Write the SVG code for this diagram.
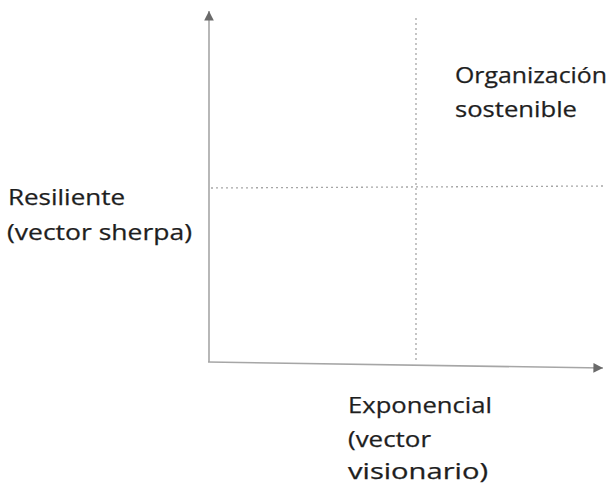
<svg xmlns="http://www.w3.org/2000/svg" width="608" height="484" viewBox="0 0 608 484">
<style>
.axis{stroke:#a6a6a6;stroke-width:1.6;fill:none}
.dot{stroke:#a6a6a6;stroke-width:1.3;stroke-dasharray:2 3;fill:none}
.lbl{font-family:"Open Sans","Noto Sans",Arial,sans-serif;font-size:22px;fill:#1e1e1e;stroke:#1e1e1e;stroke-width:0.25}
</style>
<defs>
<marker id="ah" viewBox="0 0 10 10" refX="10" refY="5" markerWidth="6" markerHeight="6" orient="auto" markerUnits="strokeWidth">
<path d="M0,0 L10,5 L0,10 Z" fill="#6a6a6a"/>
</marker>
</defs>
<rect width="608" height="484" fill="#fff"/>
<g id="connectors">
<line class="dot" x1="416" y1="18" x2="416" y2="362"/>
<line class="dot" x1="211" y1="188" x2="604" y2="186"/>
<line class="axis" x1="209" y1="362" x2="209" y2="11" marker-end="url(#ah)"/>
<line class="axis" x1="208" y1="362" x2="603" y2="368" marker-end="url(#ah)"/>
</g>
<g id="resiliente">
<text class="lbl" x="8" y="205" textLength="117" lengthAdjust="spacingAndGlyphs">Resiliente</text>
<text class="lbl" x="7" y="240" textLength="185" lengthAdjust="spacingAndGlyphs">(vector sherpa)</text>
</g>
<g id="organizacion">
<text class="lbl" x="455" y="83" textLength="152" lengthAdjust="spacingAndGlyphs">Organización</text>
<text class="lbl" x="455" y="117" textLength="122" lengthAdjust="spacingAndGlyphs">sostenible</text>
</g>
<g id="exponencial">
<text class="lbl" x="348" y="413" textLength="144" lengthAdjust="spacingAndGlyphs">Exponencial</text>
<text class="lbl" x="348" y="447" textLength="83" lengthAdjust="spacingAndGlyphs">(vector</text>
<text class="lbl" x="348" y="479" textLength="140" lengthAdjust="spacingAndGlyphs">visionario)</text>
</g>
</svg>
